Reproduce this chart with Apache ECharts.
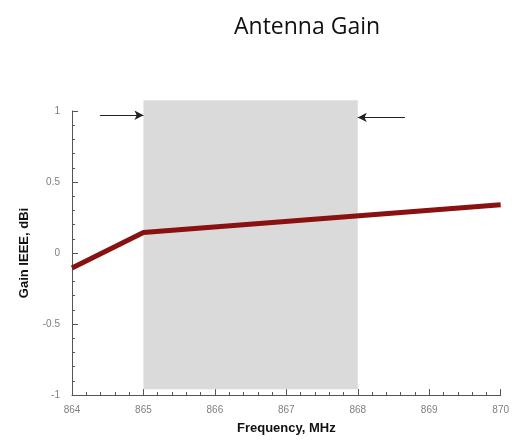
<!DOCTYPE html>
<html><head><meta charset="utf-8">
<script src="https://cdn.jsdelivr.net/npm/echarts@6/dist/echarts.min.js"></script>
<style>html,body{margin:0;padding:0;background:#fff}#c{width:512px;height:440px}</style>
</head><body><div id="c"></div>
<script>
const freq = [864, 865, 870];
const gain = [-0.105, 0.145, 0.34];
const band = [[865, 868, -0.96, 1.075]];
const arrowLeft = [[864.39, 0.97], [865.0, 0.97]];
const arrowRight = [[868.66, 0.955], [868.0, 0.955]];
const xTicks = [864, 865, 866, 867, 868, 869, 870];
const yTicks = [-1, -0.5, 0, 0.5, 1];

const chart = echarts.init(document.getElementById('c'));
const tickFont = {color: '#808080', fontSize: 10, fontFamily: 'Liberation Sans'};
const nameFont = {fontFamily: 'Liberation Sans', fontWeight: 'bold', fontSize: 13, color: '#111'};
chart.setOption({
  animation: false,
  title: {text: 'Antenna Gain', left: 229, top: 11,
    textStyle: {fontFamily: 'Open Sans', fontWeight: 'normal', fontSize: 23, color: '#111'}},
  grid: {left: 72, right: 11, top: 111, bottom: 44},
  xAxis: {type: 'value', min: xTicks[0], max: xTicks[xTicks.length-1], interval: 1,
    name: 'Frequency, MHz', nameLocation: 'middle', nameGap: 27, nameTextStyle: nameFont,
    axisLine: {onZero: false, lineStyle: {color: '#555', width: 1}},
    axisTick: {inside: true, length: 6, lineStyle: {color: '#555'}},
    minorTick: {show: true, splitNumber: 5, length: 3, lineStyle: {color: '#555'}},
    axisLabel: Object.assign({margin: 10}, tickFont),
    splitLine: {show: false}},
  yAxis: {type: 'value', min: yTicks[0], max: yTicks[yTicks.length-1], interval: 0.5,
    name: 'Gain IEEE, dBi', nameLocation: 'middle', nameGap: 41, nameTextStyle: nameFont,
    axisLine: {show: true, onZero: false, lineStyle: {color: '#555', width: 1}},
    axisTick: {show: true, inside: true, length: 6, lineStyle: {color: '#555'}},
    minorTick: {show: true, splitNumber: 5, length: 3, lineStyle: {color: '#555'}},
    axisLabel: Object.assign({margin: 12}, tickFont),
    splitLine: {show: false}},
  series: [{
    type: 'custom', clip: false, silent: true, z: 1, data: band,
    renderItem: function (params, api) {
      const p0 = api.coord([api.value(0), api.value(2)]);
      const p1 = api.coord([api.value(1), api.value(3)]);
      return {type: 'rect', shape: {x: p0[0], y: p1[1], width: p1[0] - p0[0], height: p0[1] - p1[1]},
        style: {fill: '#dadada'}};
    }
  }, {
    type: 'line', data: freq.map((f, i) => [f, gain[i]]),
    showSymbol: false, symbol: 'none',
    lineStyle: {color: '#8a1111', width: 5}, z: 5,
    markLine: {silent: true, symbol: ['none', 'arrow'], symbolSize: [7, 9],
      label: {show: false}, lineStyle: {color: '#222', width: 1, type: 'solid'},
      data: [
        [{coord: arrowLeft[0]}, {coord: arrowLeft[1]}],
        [{coord: arrowRight[0]}, {coord: arrowRight[1]}]
      ]}
  }]
});
</script></body></html>
